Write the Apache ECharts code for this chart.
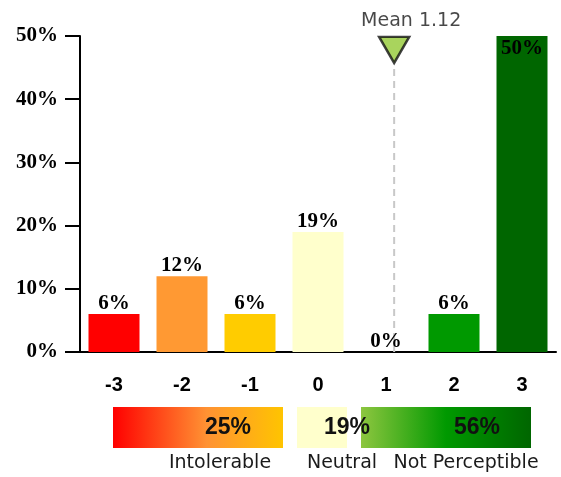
<!DOCTYPE html>
<html>
<head>
<meta charset="utf-8">
<script src="https://cdn.jsdelivr.net/npm/echarts@6/dist/echarts.min.js"></script>
<style>
  html, body { margin: 0; padding: 0; background: #fff; }
  #main { width: 561px; height: 477px; }
</style>
</head>
<body>
<div id="main"></div>
<script>
// data
const categories = ['-3', '-2', '-1', '0', '1', '2', '3'];
const percents = [6, 12, 6, 19, 0, 6, 50];
const yTicks = [0, 10, 20, 30, 40, 50];
const meanValue = 1.12;
const groupNames = ['Intolerable', 'Neutral', 'Not Perceptible'];
const groupPercents = [25, 19, 56];

// colours per score
const barColors = ['#ff0000', '#ff9933', '#ffcc00', '#ffffcc', '#ffffcc', '#009900', '#006600'];

let chart = echarts.init(document.getElementById('main'));

let barData = percents.map(function (v, i) {
  let item = { value: v, itemStyle: { color: barColors[i] } };
  // the top bar carries its label inside
  if (v >= yTicks[yTicks.length - 1]) {
    item.label = { position: 'insideTop', distance: 2 };
  }
  return item;
});

function grad(stops) {
  return new echarts.graphic.LinearGradient(0, 0, 1, 0, stops);
}

// summary strip under the chart
let strip = [
  { x: 113, w: 170, fill: grad([{ offset: 0, color: '#ff0000' }, { offset: 0.55, color: '#ff9233' }, { offset: 1, color: '#ffc400' }]), tx: 228, lx: 220 },
  { x: 297, w: 50, fill: '#ffffcc', tx: 347, lx: 342 },
  { x: 361, w: 170, fill: grad([{ offset: 0, color: '#8dc63f' }, { offset: 0.5, color: '#009900' }, { offset: 1, color: '#006600' }]), tx: 477, lx: 466 }
];

let graphics = [];
strip.forEach(function (s) {
  graphics.push({
    type: 'rect', left: s.x, top: 407, z: 1,
    shape: { width: s.w, height: 41 },
    style: { fill: s.fill }
  });
});
strip.forEach(function (s, i) {
  graphics.push({
    type: 'text', x: s.tx, y: 428, z: 5,
    style: {
      text: groupPercents[i] + '%', align: 'center', verticalAlign: 'middle',
      font: 'bold 23px "Liberation Sans", Arial, sans-serif', fill: '#111'
    }
  });
  graphics.push({
    type: 'text', x: s.lx, y: 463, z: 5,
    style: {
      text: groupNames[i], align: 'center', verticalAlign: 'middle',
      font: '19px "DejaVu Sans", sans-serif', fill: '#1a1a1a'
    }
  });
});

let option = {
  animation: false,
  grid: { left: 80, right: 5, top: 36, bottom: 125 },
  xAxis: [
    {
      type: 'category',
      data: categories,
      axisLine: { lineStyle: { color: '#000', width: 2 } },
      axisTick: { alignWithLabel: true, length: 15, lineStyle: { color: '#000', width: 2 } },
      axisLabel: {
        color: '#000', fontSize: 20, fontWeight: 'bold',
        fontFamily: '"Liberation Sans", Arial, sans-serif', margin: 23
      }
    },
    { type: 'value', min: -3.5, max: 3.5, show: false }
  ],
  yAxis: {
    type: 'value',
    min: yTicks[0],
    max: yTicks[yTicks.length - 1],
    interval: 10,
    splitLine: { show: false },
    axisLine: { show: true, onZero: false, lineStyle: { color: '#000', width: 2 } },
    axisTick: { show: true, length: 15, lineStyle: { color: '#000', width: 2 } },
    axisLabel: {
      formatter: '{value}%', color: '#000', fontSize: 21, fontWeight: 'bold',
      fontFamily: '"Liberation Serif", "Times New Roman", serif', margin: 22
    }
  },
  series: [
    {
      name: 'share',
      type: 'bar',
      barWidth: '75%',
      data: barData,
      label: {
        show: true, position: 'top', distance: 0,
        formatter: '{c}%', color: '#000', fontSize: 21, fontWeight: 'bold',
        fontFamily: '"Liberation Serif", "Times New Roman", serif'
      }
    },
    {
      name: 'mean line',
      type: 'line',
      xAxisIndex: 1,
      symbol: 'none',
      z: 1,
      data: [[meanValue, 0], [meanValue, 45.5]],
      lineStyle: { color: '#c8c8c8', width: 2, type: [7, 5] }
    },
    {
      name: 'mean',
      type: 'scatter',
      xAxisIndex: 1,
      z: 6,
      symbol: 'path://M0,0 L10,0 L5,9 Z',
      symbolSize: [30, 26],
      data: [[meanValue, 47.8]],
      itemStyle: { color: '#93c935', borderColor: '#111', borderWidth: 2.5 },
      label: {
        show: true, position: 'top', distance: 5, offset: [17, 0],
        formatter: 'Mean ' + meanValue, color: '#1a1a1a', fontSize: 19,
        fontFamily: '"DejaVu Sans", sans-serif'
      }
    }
  ],
  graphic: graphics
};

chart.setOption(option);
</script>
</body>
</html>
